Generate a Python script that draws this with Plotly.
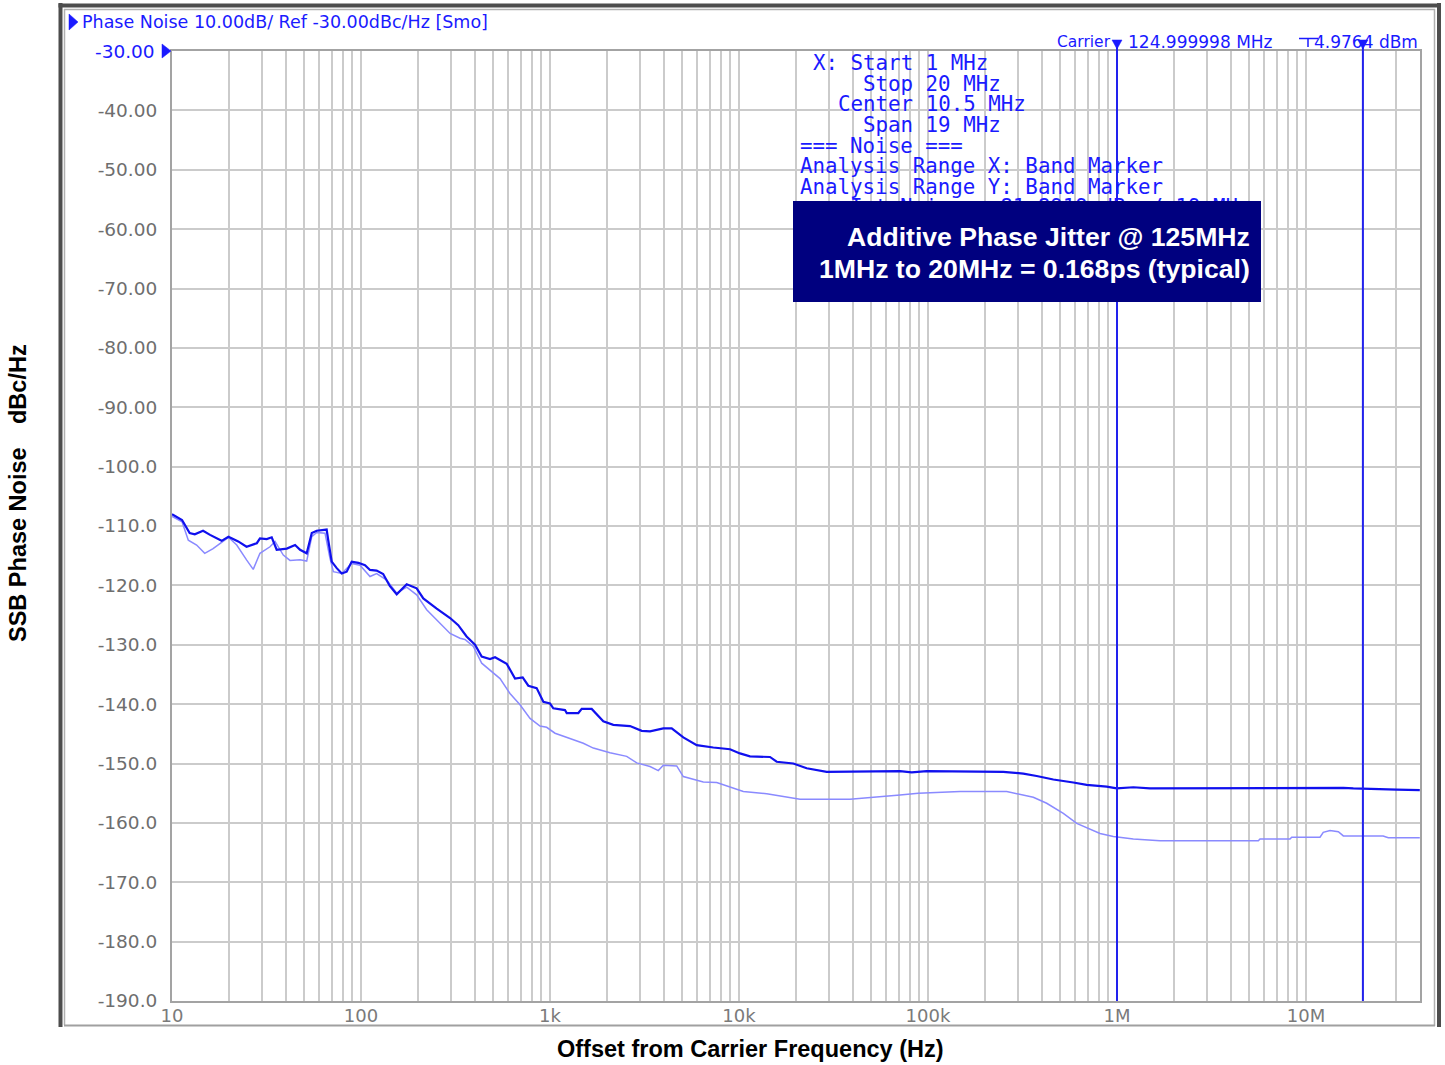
import math
import plotly.graph_objects as go

# ---------------- data ----------------
dark_freq = [10, 11.3, 12.4, 13.2, 14.6, 15.9, 18.3, 19.9, 22.4, 24.8, 28.1, 29.2, 31.7, 33.7, 35.8,
             40.5, 44.8, 47.6, 51.6, 54.9, 58.3, 65.8, 67.1, 70.0, 74.4, 79.1, 84.0, 89.3, 96.8, 105,
             111.6, 121, 131, 142, 154.5, 174.5, 197, 213.6, 251.5, 296, 327, 362, 401, 435, 481.5,
             512, 590, 653, 717, 768, 850, 922, 1000, 1041, 1200, 1226, 1412, 1472, 1662, 1914, 2162,
             2651, 3056, 3382, 3977, 4405, 5074, 5974, 7311, 8962, 10120, 11430, 14590, 15830, 19380,
             22810, 29110, 58000, 71100, 82000, 98400, 250300, 319300, 375900, 460300, 587200, 691400,
             882100, 996300, 1.22e6, 1.494e6, 1.576e7, 1.78e7, 3.02e7, 4.0e7]
dark_db = [-108.0, -109.0, -111.2, -111.4, -110.8, -111.5, -112.5, -111.8, -112.6, -113.5, -112.9, -112.1,
           -112.2, -111.9, -114.0, -113.8, -113.2, -114.0, -114.6, -111.2, -110.8, -110.6, -112.4, -116.0,
           -117.1, -118.0, -117.7, -116.0, -116.2, -116.6, -117.4, -117.5, -118.1, -120.1, -121.5, -119.8,
           -120.5, -122.2, -123.9, -125.5, -126.7, -128.6, -130.0, -132.0, -132.4, -132.1, -133.2, -135.7,
           -135.5, -136.9, -137.3, -139.6, -139.9, -140.7, -141.0, -141.5, -141.5, -140.8, -140.8, -142.9,
           -143.5, -143.7, -144.5, -144.6, -144.1, -144.1, -145.6, -146.9, -147.3, -147.6, -148.3, -148.8,
           -148.9, -149.7, -150.0, -150.8, -151.4, -151.4, -151.3, -151.5, -151.3, -151.4, -151.7, -152.1,
           -152.7, -153.2, -153.6, -153.9, -154.2, -154.0, -154.2, -154.1, -154.2, -154.4, -154.5]

light_freq = [10, 11.3, 12.2, 13.5, 14.9, 16.5, 19.9, 22.0, 24.8, 26.9, 29.2, 33.0, 35.1, 38.8, 42.1,
              47.6, 51.6, 54.9, 58.3, 64.5, 68.5, 71.4, 79.1, 89.3, 98.8, 111.6, 121, 136.8, 154.5, 174.5,
              197, 222.6, 296, 334, 355, 393, 435, 491.5, 544, 614, 694, 784, 885, 960, 1063, 1200, 1500,
              1695, 2077, 2546, 2876, 3382, 3741, 3977, 4681, 5074, 6472, 7621, 9329, 10540, 14020, 17160,
              21030, 38670, 58000, 71100, 88850, 147700, 260900, 294700, 360700, 424600, 519900, 612200,
              719600, 813200, 955900, 1.22e6, 1.689e6, 5.593e6, 5.71e6, 8.229e6, 8.401e6, 1.186e7,
              1.234e7, 1.34e7, 1.483e7, 1.576e7, 2.559e7, 2.725e7, 4.0e7]
light_db = [-108.4, -109.3, -112.4, -113.2, -114.6, -113.8, -111.9, -113.2, -115.7, -117.3, -114.6, -113.5,
            -112.6, -114.9, -115.8, -115.7, -115.9, -111.8, -111.1, -111.2, -115.4, -117.7, -118.0, -116.3,
            -116.6, -118.5, -118.0, -119.1, -121.3, -120.3, -121.6, -124.1, -128.1, -128.9, -129.1, -130.3,
            -133.1, -134.5, -135.7, -138.2, -140.1, -142.4, -143.7, -143.9, -144.9, -145.5, -146.6, -147.4,
            -148.2, -148.8, -149.9, -150.5, -151.2, -150.3, -150.4, -152.2, -153.1, -153.2, -154.2, -154.7,
            -155.1, -155.6, -156.0, -156.0, -155.6, -155.3, -155.0, -154.7, -154.7, -155.1, -155.7, -156.7,
            -158.4, -160.1, -161.1, -161.8, -162.3, -162.7, -163.0, -163.0, -162.7, -162.7, -162.4, -162.4,
            -161.6, -161.3, -161.5, -162.2, -162.2, -162.5, -162.5]

band_markers_hz = [1e6, 20e6]
y_tick_values = [-190, -180, -170, -160, -150, -140, -130, -120, -110, -100, -90, -80, -70, -60, -50, -40]
y_tick_labels = ["-190.0", "-180.0", "-170.0", "-160.0", "-150.0", "-140.0", "-130.0", "-120.0",
                 "-110.0", "-100.0", "-90.00", "-80.00", "-70.00", "-60.00", "-50.00", "-40.00"]
x_decades = [10, 100, 1e3, 1e4, 1e5, 1e6, 1e7]
x_decade_labels = ["10", "100", "1k", "10k", "100k", "1M", "10M"]
x_max_hz = 4.01e7

info_lines = [" X: Start 1 MHz", "     Stop 20 MHz", "   Center 10.5 MHz", "     Span 19 MHz",
              "=== Noise ===", "Analysis Range X: Band Marker", "Analysis Range Y: Band Marker",
              "    Int Noise: -81.8919 dBc / 19 MHz"]

# ---------------- geometry helpers (decorations only) ----------------
W, H = 1445, 1065
L, R, T, B = 172, 1420, 51, 1001   # plot area in pixels


def px(x):
    return (x - L) / (R - L)


def py(y):
    return (B - y) / (B - T)


grid_vals, grid_text = [], []
for d, lab in zip(x_decades, x_decade_labels):
    for m in range(1, 10):
        v = d * m
        if v <= x_max_hz:
            grid_vals.append(v)
            grid_text.append(lab if m == 1 else "")

BLUE = "#1a1aff"
fig = go.Figure()
fig.add_trace(go.Scatter(x=light_freq, y=light_db, mode="lines",
                         line=dict(color="#8a8aff", width=1.5), showlegend=False, hoverinfo="skip"))
fig.add_trace(go.Scatter(x=dark_freq, y=dark_db, mode="lines",
                         line=dict(color="#1010ee", width=2.2), showlegend=False, hoverinfo="skip"))

shapes = []
for f in band_markers_hz:
    shapes.append(dict(type="line", xref="x", yref="paper", x0=f, x1=f, y0=0, y1=py(44),
                       line=dict(color="#2222ee", width=2), layer="above"))


def tri(points, color):
    p = "M " + " L ".join(f"{px(a):.5f},{py(b):.5f}" for a, b in points) + " Z"
    return dict(type="path", xref="paper", yref="paper", path=p, fillcolor=color,
                line=dict(color=color, width=0.5), layer="above")


for f in band_markers_hz:
    cx = L + (math.log10(f) - 1) / (math.log10(x_max_hz) - 1) * (R - L)
    shapes.append(tri([(cx - 5, 40), (cx + 5, 40), (cx, 49)], BLUE))
shapes.append(tri([(162, 44), (171, 51), (162, 58)], BLUE))
shapes.append(tri([(69, 14), (78, 22), (69, 30)], BLUE))
shapes.append(dict(type="line", xref="paper", yref="paper", x0=px(1299), x1=px(1318), y0=py(38.5),
                   y1=py(38.5), line=dict(color=BLUE, width=1.5)))
shapes.append(dict(type="line", xref="paper", yref="paper", x0=px(1308), x1=px(1308), y0=py(38.5),
                   y1=py(47), line=dict(color=BLUE, width=1.5)))


def seg(x0, y0, x1, y1, color, width):
    return dict(type="line", xref="paper", yref="paper", x0=px(x0), y0=py(y0), x1=px(x1), y1=py(y1),
                line=dict(color=color, width=width), layer="above")


shapes += [
    seg(60.5, 3, 60.5, 1027, "#4d4d4d", 4),
    seg(58.5, 5.5, 1441, 5.5, "#4d4d4d", 4),
    seg(1439, 3, 1439, 1027, "#4d4d4d", 4),
    seg(64.5, 9, 64.5, 1025, "#b0b0b0", 1.5),
    seg(64, 9.5, 1435, 9.5, "#b0b0b0", 1.5),
    seg(1434.5, 9, 1434.5, 1026, "#b0b0b0", 1.5),
    seg(64, 1025.5, 1435, 1025.5, "#a0a0a0", 2),
]

ann = []
ann.append(dict(text="Phase Noise 10.00dB/ Ref -30.00dBc/Hz [Smo]", x=px(80), y=py(22), xanchor="left",
                yanchor="middle", font=dict(family="DejaVu Sans", size=17.5, color=BLUE)))
ann.append(dict(text="-30.00", x=px(157), y=py(51), xanchor="right", yanchor="middle",
                font=dict(family="DejaVu Sans", size=18.5, color=BLUE)))
ann.append(dict(text="Carrier", x=px(1113), y=py(42), xanchor="right", yanchor="middle",
                font=dict(family="DejaVu Sans", size=15.5, color=BLUE)))
ann.append(dict(text="124.999998 MHz", x=px(1126), y=py(42), xanchor="left", yanchor="middle",
                font=dict(family="DejaVu Sans", size=17, color=BLUE)))
ann.append(dict(text="4.9764 dBm", x=px(1420), y=py(42), xanchor="right", yanchor="middle",
                font=dict(family="DejaVu Sans", size=17, color=BLUE)))

CW = 12.6
line_y = [63, 84, 104, 125, 146, 166, 187, 207]
for s, yy in zip(info_lines, line_y):
    idx = len(s) - len(s.lstrip(" "))
    ann.append(dict(text=s.strip(), x=px(798 + idx * CW), y=py(yy), xanchor="left", yanchor="middle",
                    font=dict(family="DejaVu Sans Mono", size=20.8, color=BLUE)))

ann.append(dict(text=" ", x=px(793), y=py(201), xanchor="left", yanchor="top", width=468, height=101,
                bgcolor="#00007f", borderpad=0, borderwidth=0, showarrow=False))
ann.append(dict(text="<b>Additive Phase Jitter @ 125MHz</b>", x=px(1252), y=py(237), xanchor="right",
                yanchor="middle", font=dict(family="Liberation Sans", size=26.6, color="white")))
ann.append(dict(text="<b>1MHz to 20MHz = 0.168ps (typical)</b>", x=px(1252), y=py(269), xanchor="right",
                yanchor="middle", font=dict(family="Liberation Sans", size=26.6, color="white")))

ann.append(dict(text="<b>SSB Phase Noise</b>", x=px(18), y=py(545), textangle=-90, xanchor="center",
                yanchor="middle", font=dict(family="Liberation Sans", size=23.5, color="black")))
ann.append(dict(text="<b>dBc/Hz</b>", x=px(18), y=py(384), textangle=-90, xanchor="center",
                yanchor="middle", font=dict(family="Liberation Sans", size=23.5, color="black")))
ann.append(dict(text="<b>Offset from Carrier Frequency (Hz)</b>", x=px(750), y=py(1049), xanchor="center",
                yanchor="middle", font=dict(family="Liberation Sans", size=23.5, color="black")))

for a in ann:
    a.setdefault("xref", "paper")
    a.setdefault("yref", "paper")
    a.setdefault("showarrow", False)

fig.update_layout(
    width=W, height=H,
    margin=dict(l=L, r=W - R, t=T, b=H - B, pad=0),
    paper_bgcolor="white", plot_bgcolor="white",
    font=dict(family="DejaVu Sans"),
    shapes=shapes, annotations=ann, showlegend=False,
    xaxis=dict(type="log", range=[1, math.log10(x_max_hz)], tickvals=grid_vals, ticktext=grid_text,
               showgrid=True, gridcolor="#cbcbcb", gridwidth=2, showline=True, linecolor="#a3a3a3",
               linewidth=2, mirror=True, ticks="", ticklabelstandoff=-3,
               tickfont=dict(family="DejaVu Sans", size=18, color="#7a7a7a"), zeroline=False, fixedrange=True),
    yaxis=dict(range=[-190, -30], tickvals=y_tick_values, ticktext=y_tick_labels, showgrid=True,
               gridcolor="#cbcbcb", gridwidth=2, showline=True, linecolor="#a3a3a3", linewidth=2, mirror=True,
               ticks="outside", ticklen=9, tickcolor="rgba(0,0,0,0)",
               tickfont=dict(family="DejaVu Sans", size=18.5, color="#6e6e6e"), zeroline=False, fixedrange=True),
)

# remove the default 8 px page margin so the figure sits at the window origin; hide the mode bar
fig.write_html("out.html", post_script="document.body.style.margin='0px';",
               config={"displayModeBar": False})
